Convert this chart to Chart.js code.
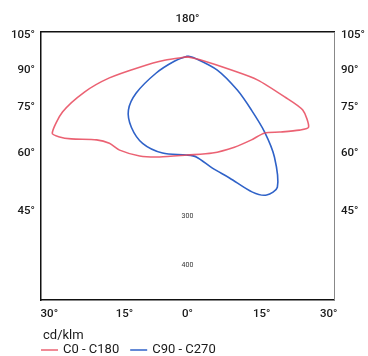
<!DOCTYPE html>
<html>
<head>
<meta charset="utf-8" />
<script src="https://cdn.jsdelivr.net/npm/chart.js@4/dist/chart.umd.min.js"></script>
<style>
  body { margin: 0; background: #fff; }
  #wrap { width: 368px; height: 356px; position: relative; }
</style>
</head>
<body>
<div id="wrap"><canvas id="myChart"></canvas></div>

<script>
// C0 - C180 curve, cd/klm (x to the side, y up from the lamp)
const redX = [0, 29, 90, 143, 199, 236, 248, 229, 189, 158, 131, 96, 51, 0, -57, -98, -139, -160, -186, -238, -262, -277, -256, -211, -160, -98, -47, 0];
const redY = [27, 20, 0, -20, -55, -82, -117, -123, -127, -129, -143, -158, -170, -174, -178, -176, -164, -150, -143, -141, -137, -129, -86, -45, -16, 6, 20, 27];

// C90 - C270 curve
const blueX = [0, 14, 61, 102, 131, 158, 178, 184, 162, 133, 86, 51, 18, -2, -51, -92, -115, -121, -105, -64, -27, 0];
const blueY = [29, 25, 0, -41, -82, -127, -178, -240, -256, -250, -221, -201, -178, -174, -170, -150, -117, -82, -47, -6, 18, 29];

// angle labels
const sideVals = [72, 0, -76, -170, -289];
const sideLabels = ['105°', '90°', '75°', '60°', '45°'];
const bottomVals = [-283, -129, 0, 152, 289];
const bottomLabels = ['30°', '15°', '0°', '15°', '30°'];
const topLabels = ['180°'];

// intensity labels
const ringVals = [300, 400];

const legendItems = ['C0 - C180', 'C90 - C270'];
const colors = ['rgba(232,70,90,0.85)', '#2f62c8'];

function pts(xs, ys) {
  return xs.map((x, i) => ({x: x, y: ys[i]}));
}

const textColor = '#1a1a1a';
const font = {family: 'Roboto', size: 11.5, weight: '500'};

const extras = {
  id: 'extras',
  afterDraw: (chart) => {
    const {ctx} = chart;
    const xs = chart.scales.x, ys = chart.scales.y;
    ctx.save();
    // intensity ring labels
    ctx.fillStyle = '#333';
    ctx.font = "7px 'Roboto'";
    ctx.textAlign = 'center';
    ctx.textBaseline = 'middle';
    ringVals.forEach(v => {
      ctx.fillText(String(v), xs.getPixelForValue(0), ys.getPixelForValue(-v));
    });
    // legend
    const left = chart.chartArea.left;
    ctx.fillStyle = textColor;
    ctx.font = "13px 'Roboto'";
    ctx.textAlign = 'left';
    ctx.fillText('cd/klm', left + 2, 336);
    let x = left;
    legendItems.forEach((t, i) => {
      ctx.strokeStyle = colors[i];
      ctx.lineWidth = 1.5;
      ctx.beginPath();
      ctx.moveTo(x, 350);
      ctx.lineTo(x + 17, 350);
      ctx.stroke();
      ctx.fillStyle = textColor;
      ctx.fillText(t, x + 22, 350);
      x += 22 + ctx.measureText(t).width + 11;
    });
    ctx.restore();
  }
};

function fixedTicks(vals) {
  return function (scale) {
    scale.ticks = vals.map(v => ({value: v}));
  };
}

const noGrid = {display: false, drawTicks: false};

new Chart(document.getElementById('myChart'), {
  type: 'scatter',
  data: {
    datasets: [
      {label: legendItems[0], data: pts(redX, redY), borderColor: colors[0], showLine: true, pointRadius: 0, borderWidth: 1.6, tension: 0.25},
      {label: legendItems[1], data: pts(blueX, blueY), borderColor: colors[1], showLine: true, pointRadius: 0, borderWidth: 1.6, tension: 0.3}
    ]
  },
  options: {
    responsive: true,
    maintainAspectRatio: false,
    animation: false,
    layout: {padding: 0},
    plugins: {legend: {display: false}, tooltip: {enabled: false}},
    scales: {
      x: {
        type: 'linear', position: 'bottom', min: -300, max: 300,
        afterBuildTicks: fixedTicks(bottomVals),
        afterFit: (s) => { s.height = 56; },
        grid: noGrid,
        border: {display: true, color: '#111', width: 1.5},
        ticks: {color: textColor, font: font, padding: 7, maxRotation: 0, autoSkip: false,
          callback: (v, i) => bottomLabels[i]}
      },
      x2: {
        type: 'linear', position: 'top', min: -300, max: 300,
        afterBuildTicks: fixedTicks([0]),
        afterFit: (s) => { s.height = 32; },
        grid: noGrid,
        border: {display: true, color: '#111', width: 1.5},
        ticks: {color: textColor, font: font, padding: 6, callback: (v, i) => topLabels[i]}
      },
      y: {
        type: 'linear', position: 'left', min: -471, max: 78,
        afterBuildTicks: fixedTicks(sideVals),
        afterFit: (s) => { s.width = 41; },
        grid: noGrid,
        border: {display: true, color: '#111', width: 1.5},
        ticks: {color: textColor, font: font, padding: 6, autoSkip: false, callback: (v, i) => sideLabels[i]}
      },
      y2: {
        type: 'linear', position: 'right', min: -471, max: 78,
        afterBuildTicks: fixedTicks(sideVals),
        afterFit: (s) => { s.width = 34; },
        grid: noGrid,
        border: {display: true, color: '#888', width: 1, dash: [2, 1]},
        ticks: {color: textColor, font: font, padding: 7, autoSkip: false, callback: (v, i) => sideLabels[i]}
      }
    }
  },
  plugins: [extras]
});
</script>
</body>
</html>
